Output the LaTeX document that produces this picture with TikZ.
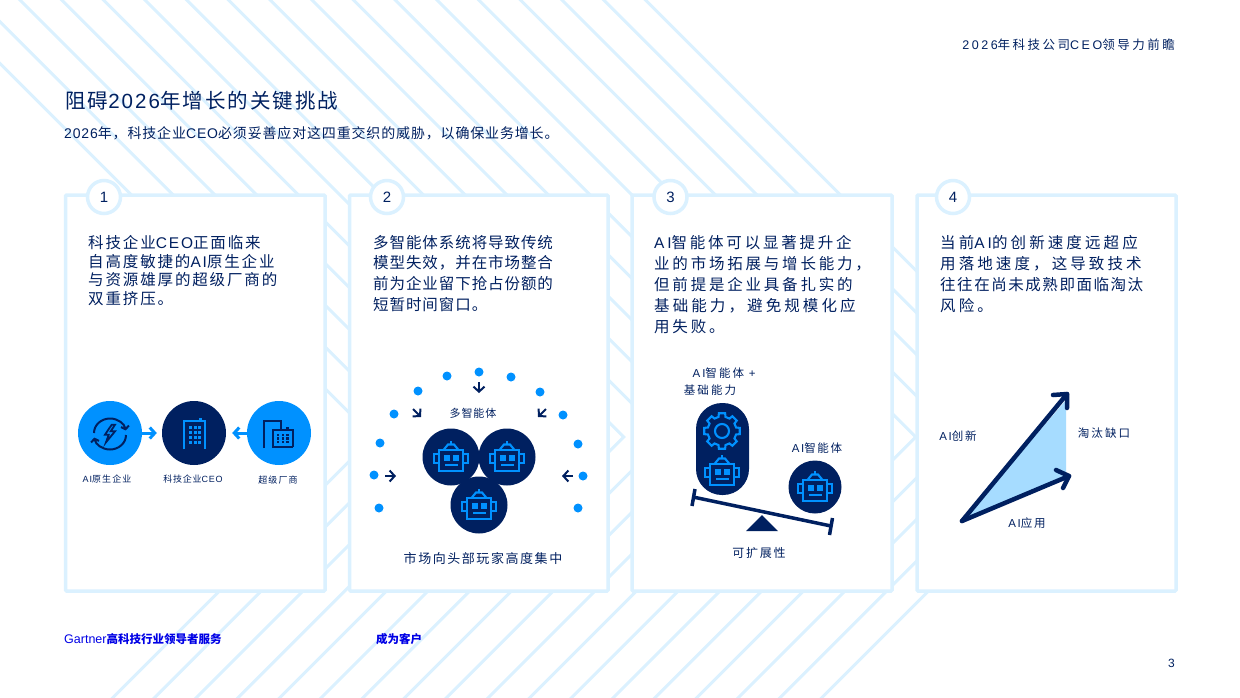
\documentclass[tikz,border=0pt]{standalone}
\usepackage{fontspec}
\usepackage{xcolor}
\usetikzlibrary{arrows.meta}
\setmainfont{Liberation Sans}
% font pairs by tracking
\newcommand{\mkfam}[1]{%
  \expandafter\newfontfamily\csname zh#1\endcsname[LetterSpace=#1]{Noto Sans CJK SC}%
  \expandafter\newfontfamily\csname en#1\endcsname[LetterSpace=#1]{Liberation Sans}}
\mkfam{0}\mkfam{4}\mkfam{6}\mkfam{8}\mkfam{10}\mkfam{12}\mkfam{14}\mkfam{16}\mkfam{18}\mkfam{20}
\newcommand{\track}[1]{\csname zh#1\endcsname\def\la##1{{\csname en#1\endcsname ##1}}}
\newcommand{\fs}[2]{\fontsize{#1}{#2}\selectfont}
\definecolor{gnavy}{HTML}{002060}
\definecolor{gblue}{HTML}{0091FF}
\definecolor{gpale}{HTML}{DBF1FF}
\definecolor{gsky}{HTML}{A6DCFF}
\tikzstyle{stripe}=[gpale,line width=3]
\tikzstyle{card}=[draw=gpale,fill=white,line width=3.5,rounded corners=1,anchor=north west,minimum height=396,inner sep=0,outer sep=0]
\tikzstyle{num}=[draw=gpale,fill=white,line width=3.5,circle,minimum size=33,inner sep=0,text=gnavy,font=\fs{15}{15}]
\tikzstyle{body}=[anchor=north west,align=left,inner sep=0,text=gnavy]
\tikzstyle{lab}=[inner sep=0,text=gnavy]
\tikzstyle{disc}=[circle,fill=gnavy,minimum size=57,inner sep=0]
\tikzstyle{bluedisc}=[circle,fill=gblue,minimum size=64,inner sep=0]
\tikzstyle{dot}=[circle,fill=gblue,minimum size=9,inner sep=0]
\tikzstyle{flow}=[gblue,line width=3,-{Straight Barb[length=5,width=11]}]
\tikzstyle{smallarr}=[gnavy,line width=2,-{Straight Barb[length=5,width=11]}]
\tikzstyle{growth}=[gnavy,line width=4.5,line cap=round,line join=round]
\tikzstyle{iconline}=[gblue,line width=2.1]
\tikzset{
  robot/.pic={
    \draw[iconline] (-11.7,-7.3) rectangle (11.7,14);
    \draw[iconline] (-11.7,-3.3) -- (-16.7,-3.3) -- (-16.7,6.3) -- (-11.7,6.3);
    \draw[iconline] (11.7,-3.3) -- (16.7,-3.3) -- (16.7,6.3) -- (11.7,6.3);
    \draw[iconline] (-7.3,-7.3) -- (-3,-12.5) -- (3,-12.5) -- (7.3,-7.3);
    \draw[iconline] (0,-12.5) -- (0,-16);
    \fill[gblue] (-6.7,-2) rectangle (-0.7,4);
    \fill[gblue] (1.7,-2) rectangle (7.7,4);
    \fill[gblue] (-5.7,7.3) rectangle (6.7,9.3);
  }
}
\begin{document}
\begin{tikzpicture}[x=1pt,y=-1pt]
  \useasboundingbox (0,0) rectangle (1240,697);
  \begin{scope}
    \clip (0,0) rectangle (1240,697);
    % chevrons
    \foreach \k in {-2,...,15} {
      \pgfmathsetmacro\tipx{20+41.7*\k+437}
      \draw[stripe] ({\tipx-460},-23) -- (\tipx,437) -- ({\tipx-280},717);
    }
  \end{scope}

  % head
  \node[lab,anchor=north east,font=\fs{12.5}{14}\track{20}] (header) at (1175,39) {\la{2026}年科技公司\la{CEO}领导力前瞻};
  \node[lab,anchor=west,font=\fs{20.5}{24}\track{10}] (title) at (65,101) {阻碍\la{2026}年增长的关键挑战};
  \node[lab,anchor=west,font=\fs{14}{18}\track{6}] (subtitle) at (64,133) {\la{2026}年，科技企业\la{CEO}必须妥善应对这四重交织的威胁，以确保业务增长。};

  % cards
  \foreach \i/\x/\w/\cx in {1/65.5/259.5/104,2/349.5/258.5/387,3/632/260/670.5,4/917/259/953} {
    \node[card,minimum width=\w] (card\i) at (\x,195) {};
    \node[num] (num\i) at (\cx,197) {\i};
  }
  \node[body,font=\fs{15.5}{18.8}\track{12}] (text1) at (88,235) {科技企业\la{CEO}正面临来\\自高度敏捷的\la{AI}原生企业\\与资源雄厚的超级厂商的\\双重挤压。};
  \node[body,font=\fs{15.5}{20.7}\track{6}] (text2) at (373,235) {多智能体系统将导致传统\\模型失效，并在市场整合\\前为企业留下抢占份额的\\短暂时间窗口。};
  \node[body,font=\fs{15.5}{21}\track{18}] (text3) at (654,235) {\la{AI}智能体可以显著提升企\\业的市场拓展与增长能力，\\但前提是企业具备扎实的\\\track{20}基础能力，避免规模化应\\用失败。};
  \node[body,font=\fs{15.5}{21}\track{20}] (text4) at (940,235) {当前\la{AI}的创新速度远超应\\用落地速度，这导致技术\\\track{10}往往在尚未成熟即面临淘汰\\风险。};

  % card 1
  \node[bluedisc] (native) at (110,433) {};
  \node[bluedisc,fill=gnavy] (ceo) at (194,433) {};
  \node[bluedisc] (vendor) at (279,433) {};
  \draw[flow,shorten >=5] (native) -- (ceo);
  \draw[flow,shorten >=6] (vendor) -- (ceo);
  \begin{scope}[shift={(native.center)}]
    \draw[gnavy,line width=2,-{Straight Barb[length=3,width=8]}] (-16,0) arc (180:350:16 and 14.5);
    \draw[gnavy,line width=2,-{Straight Barb[length=3,width=8]}] (16,2) arc (0:170:16 and 14.5);
    \draw[gnavy,line width=1.8,fill=gblue] (1.7,-8.3) -- (-5,1.7) -- (-1.3,1.7) -- (-4,9.3) -- (5,-1.7) -- (0.7,-1.7) -- (5,-8.3) -- cycle;
  \end{scope}
  \begin{scope}[shift={(ceo.center)}]
    \draw[gblue,line width=2.2] (-10.3,16.3) -- (-10.3,-12.3) -- (10.7,-12.3) -- (10.7,16.3);
    \fill[gblue] (5,-15) rectangle (8,-12);
    \foreach \c in {0,1,2}
      \foreach \r in {0,1,2,3}
        \fill[gblue] ({-5+4.6*\c},{-7+5*\r}) rectangle ({-2+4.6*\c},{-4+5*\r});
  \end{scope}
  \begin{scope}[shift={(vendor.center)}]
    \draw[gnavy,line width=2] (-15,15) -- (-15,-12.5) -- (1.7,-12.5) -- (1.7,-3);
    \draw[gnavy,line width=2] (-6,15) -- (-6,-3) -- (14,-3) -- (14,14);
    \draw[gnavy,line width=2] (-6,14) -- (14,14);
    \fill[gnavy] (7,-6) rectangle (9.5,-3);
    \foreach \c in {0,1,2}
      \foreach \r in {0,1,2}
        \fill[gnavy] ({-2+4.6*\c},{0.5+3.8*\r}) rectangle ({0.4+4.6*\c},{2.7+3.8*\r});
  \end{scope}
  \node[lab,font=\fs{9}{10}\track{12}] (nativelab) at (107,479) {\la{AI}原生企业};
  \node[lab,font=\fs{9}{10}\track{8}] (ceolab) at (193,479) {科技企业\la{CEO}};
  \node[lab,font=\fs{9}{10}\track{12}] (vendorlab) at (278,480) {超级厂商};

  % card 2
  \foreach \i/\x/\y in {1/479/372,2/447/376,3/511/377,4/418/391,5/540/392,6/394/414,7/563/415,8/380/443,9/578/444,10/374/475,11/583/476,12/379/508,13/578/508}
    \node[dot] (dot\i) at (\x,\y) {};
  \foreach \i/\ax/\ay/\bx/\by in {1/479/382/479/393,2/413/409/421/417,3/546/409/538/417,4/385/476/396/476,5/573/476/562/476} {
    \coordinate (from\i) at (\ax,\ay);
    \coordinate (to\i) at (\bx,\by);
    \draw[smallarr] (from\i) -- (to\i);
  }
  \node[lab,font=\fs{11}{12}\track{8}] (multilab) at (473,413) {多智能体};
  \node[disc] (agentA) at (451,457) {};
  \node[disc] (agentB) at (507,457) {};
  \node[disc] (agentC) at (479,505) {};
  \pic at (agentA.center) {robot};
  \pic at (agentB.center) {robot};
  \pic at (agentC.center) {robot};
  \node[lab,font=\fs{13}{14}\track{12}] (marketlab) at (483,559) {市场向头部玩家高度集中};

  % card 3
  \node[lab,font=\fs{11.5}{12}\track{18}] (leftlabA) at (724,373) {\la{AI}智能体 \la{+}};
  \node[lab,font=\fs{11.5}{12}\track{18}] (leftlabB) at (710,390) {基础能力};
  \node[fill=gnavy,rounded corners=26,minimum width=53,minimum height=92,inner sep=0] (pill) at (722.5,449) {};
  \draw[iconline] (722,431) circle (7);
  \draw[iconline] (722,431) ++(-15:14.5) \foreach \a in {0,45,...,315} {
    -- ({722+14.5*cos(\a-14)},{431+14.5*sin(\a-14)}) -- ({722+18*cos(\a-10)},{431+18*sin(\a-10)}) -- ({722+18*cos(\a+10)},{431+18*sin(\a+10)}) -- ({722+14.5*cos(\a+14)},{431+14.5*sin(\a+14)})
  } -- cycle;
  \pic at (722,471) {robot};
  \node[disc,minimum size=53] (single) at (815,487) {};
  \pic at (single.center) {robot};
  \node[lab,font=\fs{11.5}{12}\track{14}] (rightlab) at (817,448) {\la{AI}智能体};
  \coordinate (beamL) at (693,497);
  \coordinate (beamR) at (831,526);
  \draw[gnavy,line width=3.5] (beamL) -- (beamR);
  \draw[gnavy,line width=3.5] (695,489) -- (692,506);
  \draw[gnavy,line width=3.5] (832.5,518) -- (829.5,535);
  \fill[gnavy] (762,515) -- (746,531) -- (778,531) -- cycle;
  \node[lab,font=\fs{12}{12}\track{14}] (scalelab) at (759,553) {可扩展性};

  % card 4
  \coordinate (apex) at (962,521);
  \coordinate (innovtip) at (1067,394);
  \coordinate (usetip) at (1069,476);
  \fill[gsky] (apex) -- (1066,400) -- (1066,477) -- cycle;
  \draw[growth] (apex) -- (innovtip);
  \draw[growth] (apex) -- (usetip);
  \draw[growth] (1053,395) -- (innovtip) -- (1067,408);
  \draw[growth] (1056,470) -- (usetip) -- (1063,488);
  \node[lab,font=\fs{11.5}{12}\track{14}] (innovlab) at (958,436) {\la{AI}创新};
  \node[lab,font=\fs{11.5}{12}\track{18}] (gaplab) at (1104,433) {淘汰缺口};
  \node[lab,font=\fs{11.5}{12}\track{14}] (uselab) at (1027,523) {\la{AI}应用};

  % foot
  \node[lab,anchor=west,text=blue!90!black,font=\fs{11.5}{12}\track{0}\bfseries] (linkA) at (64,639) {{\fontsize{12.5}{12}\selectfont\mdseries\la{Gartner}}高科技行业领导者服务};
  \node[lab,anchor=west,text=blue!90!black,font=\fs{11.5}{12}\track{0}\bfseries] (linkB) at (376,639) {成为客户};
  \node[lab,anchor=east,font=\fs{12}{12}] (page) at (1175,663) {3};
\end{tikzpicture}
\end{document}
